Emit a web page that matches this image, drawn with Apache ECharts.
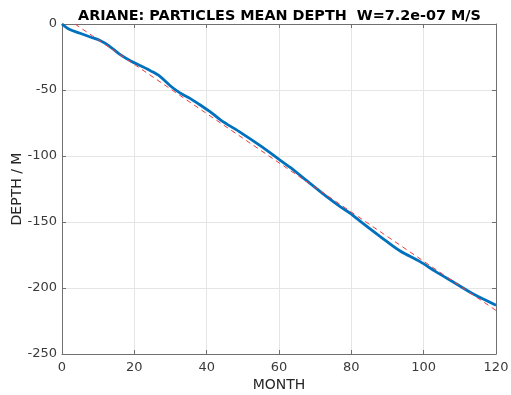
<!DOCTYPE html>
<html>
<head>
<meta charset="utf-8">
<script src="https://cdn.jsdelivr.net/npm/echarts@6/dist/echarts.min.js"></script>
<style>
html,body{margin:0;padding:0;background:#fff;}
#chart{width:511px;height:395px;}
</style>
</head>
<body>
<div id="chart"></div>
<script>
var titleText = 'ARIANE: PARTICLES MEAN DEPTH  W=7.2e-07 M/S';
var xName = 'MONTH';
var yName = 'DEPTH / M';
// mean depth (month, metres)
var meanMonths = [0, 2, 5, 8, 10.5, 13, 16, 19, 22, 24.5, 27, 30, 32.5, 35.5, 38, 41, 44, 49, 55, 60, 63, 68.5, 74, 77, 80, 82.5, 88, 93.5, 99, 103, 108.5, 114, 120];
var meanDepth  = [0, -4, -7, -10, -12.5, -16.5, -23, -28, -32, -35.5, -39.5, -47, -52, -56.5, -61, -66.5, -73, -81.5, -92.5, -102.5, -108.5, -120.5, -132.5, -138.5, -144, -149.5, -161, -172, -180, -187, -196, -205, -213];
// fitted line (constant sinking W)
var fitMonths = [3.6, 120];
var fitDepth  = [0, -217];

var meanData = meanMonths.map(function (m, i) { return [m, meanDepth[i]]; });
var fitData = fitMonths.map(function (m, i) { return [m, fitDepth[i]]; });

var font = 'DejaVu Sans';
var axisCol = '#707070';
var chart = echarts.init(document.getElementById('chart'), null, {renderer: 'canvas'});
chart.setOption({
  backgroundColor: '#ffffff',
  animation: false,
  title: {
    text: titleText, left: 73, top: 4,
    textStyle: {fontFamily: font, fontSize: 14.4, fontWeight: 'bold', color: '#000'}
  },
  grid: {left: 62, right: 15, top: 24, bottom: 41, show: false, containLabel: false, outerBoundsMode: 'none'},
  xAxis: [{
    type: 'value', min: 0, max: 120, interval: 20, position: 'bottom',
    name: xName, nameLocation: 'middle', nameGap: 24, nameMoveOverlap: false,
    nameTextStyle: {fontFamily: font, fontSize: 14, color: '#262626'},
    axisLine: {show: true, onZero: false, lineStyle: {color: axisCol, width: 1}},
    axisTick: {show: true, inside: true, length: 4, lineStyle: {color: axisCol}},
    axisLabel: {fontFamily: font, fontSize: 13, color: '#3a3a3a', margin: 7},
    splitLine: {show: true, lineStyle: {color: '#e5e5e5', width: 1}}
  }, {
    type: 'value', min: 0, max: 120, interval: 20, position: 'top',
    axisLine: {show: true, onZero: false, lineStyle: {color: axisCol, width: 1}},
    axisTick: {show: true, inside: true, length: 4, lineStyle: {color: axisCol}},
    axisLabel: {show: false}, splitLine: {show: false}
  }],
  yAxis: [{
    type: 'value', min: -250, max: 0, interval: 50, position: 'left',
    name: yName, nameLocation: 'middle', nameGap: 38, nameRotate: 90, nameMoveOverlap: false,
    nameTextStyle: {fontFamily: font, fontSize: 14, color: '#262626'},
    axisLine: {show: true, onZero: false, lineStyle: {color: axisCol, width: 1}},
    axisTick: {show: true, inside: true, length: 4, lineStyle: {color: axisCol}},
    axisLabel: {fontFamily: font, fontSize: 13, color: '#3a3a3a', margin: 5},
    splitLine: {show: true, lineStyle: {color: '#e5e5e5', width: 1}}
  }, {
    type: 'value', min: -250, max: 0, interval: 50, position: 'right',
    axisLine: {show: true, onZero: false, lineStyle: {color: axisCol, width: 1}},
    axisTick: {show: true, inside: true, length: 4, lineStyle: {color: axisCol}},
    axisLabel: {show: false}, splitLine: {show: false}
  }],
  series: [{
    type: 'line', data: meanData, showSymbol: false, smooth: 0.3,
    lineStyle: {color: '#0072BD', width: 2.8}, z: 3
  }, {
    type: 'line', data: fitData, showSymbol: false,
    lineStyle: {color: '#ee3b3b', width: 1, type: [5, 4]}, z: 4
  }]
});
</script>
</body>
</html>
